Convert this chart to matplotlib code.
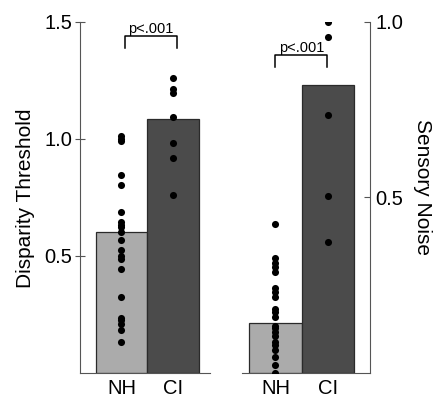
import matplotlib
matplotlib.use("Agg")
import matplotlib.pyplot as plt

plt.rcParams["font.family"] = ["Liberation Sans", "DejaVu Sans"]

# Data
groups = ["NH", "CI"]

disparity_means = [0.60, 1.086]
disparity_nh = [1.013, 1.001, 0.989, 0.847, 0.804, 0.689, 0.644, 0.633, 0.623, 0.601,
                0.566, 0.526, 0.498, 0.488, 0.443, 0.326, 0.236, 0.226, 0.209, 0.183, 0.131]
disparity_ci = [1.261, 1.211, 1.197, 1.094, 0.984, 0.916, 0.762]

noise_means = [0.143, 0.820]
noise_nh = [0.424, 0.326, 0.314, 0.303, 0.288, 0.241, 0.231, 0.215, 0.182, 0.175, 0.160,
            0.135, 0.127, 0.118, 0.105, 0.089, 0.080, 0.066, 0.046, 0.023, 0.001]
noise_ci = [0.998, 0.956, 0.735, 0.504, 0.372]

left_ticks = [0.5, 1.0, 1.5]
right_ticks = [0.5, 1.0]

# Style
W, H = 435, 397
BAR_COLORS = ["#ababab", "#4b4b4b"]
EDGE = "#2a2a2a"
SPINE = "#555555"
FS_TICK = 14.5
FS_LABEL = 15


def px_axes(x0, x1, y_top, y_bot):
    return [x0 / W, 1 - y_bot / H, (x1 - x0) / W, (y_bot - y_top) / H]


def draw_panel(ax, means, nh, ci, ylim, ticks, bracket, side):
    x = [0, 1]
    ax.bar(x, means, width=1.0, color=BAR_COLORS, edgecolor=EDGE, linewidth=0.9, zorder=2)
    ax.scatter([0] * len(nh), nh, s=26, color="black", zorder=3, linewidths=0)
    ax.scatter([1] * len(ci), ci, s=26, color="black", zorder=3, linewidths=0)
    ax.set_ylim(*ylim)
    ax.set_yticks(ticks)
    ax.set_yticklabels([f"{t:.1f}" for t in ticks], fontsize=FS_TICK)
    ax.set_xticks(x)
    ax.set_xticklabels(groups, fontsize=FS_TICK)
    ax.tick_params(axis="x", length=0, pad=4)
    for s in ["top", "left", "right"]:
        ax.spines[s].set_visible(False)
    ax.spines["bottom"].set_color(SPINE)
    ax.spines[side].set_visible(True)
    ax.spines[side].set_color(SPINE)
    ax.spines[side].set_bounds(ylim[0], ticks[-1])
    if side == "right":
        ax.yaxis.tick_right()
        ax.tick_params(axis="y", direction="in", length=4, color=SPINE, pad=4)
    else:
        ax.tick_params(axis="y", direction="inout", length=7, color=SPINE, pad=2)
    # significance bracket
    xa, xb, y_low, y_high = bracket
    ax.plot([xa, xa, xb, xb], [y_low, y_high, y_high, y_low], color="black", lw=1.1,
            clip_on=False, zorder=4)
    ax.text((xa + xb) / 2, y_high, "p<.001", ha="center", va="bottom", fontsize=10.5)


fig = plt.figure(figsize=(W / 100, H / 100), dpi=100)

ax1 = fig.add_axes(px_axes(80, 210, 21.7, 373))
ax1.set_xlim(-0.805, 1.72)
draw_panel(ax1, disparity_means, disparity_nh, disparity_ci, (0, 1.5), left_ticks,
           (0.07, 1.08, 1.389, 1.441), "left")

ax2 = fig.add_axes(px_axes(241.7, 370, 21.7, 373))
ax2.set_xlim(-0.645, 1.81)
draw_panel(ax2, noise_means, noise_nh, noise_ci, (0, 1.0), right_ticks,
           (0.0, 0.99, 0.872, 0.905), "right")

fig.text(25.5 / W, 1 - 198.5 / H, "Disparity Threshold", rotation=90, ha="center",
         va="center", fontsize=FS_LABEL)
fig.text(423 / W, 1 - 187 / H, "Sensory Noise", rotation=270, ha="center",
         va="center", fontsize=FS_LABEL)

fig.savefig("out.png", dpi=100)
